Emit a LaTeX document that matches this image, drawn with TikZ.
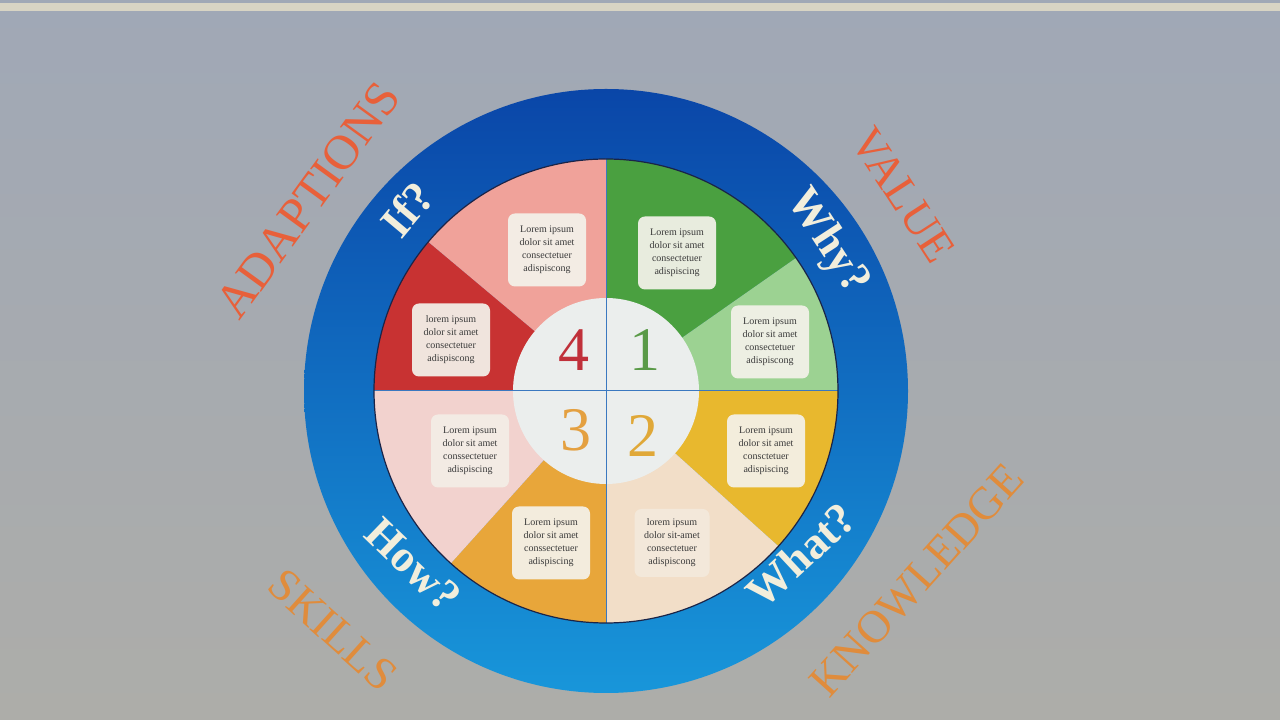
\documentclass[tikz,border=0pt]{standalone}
\usepackage{fontspec}
\setmainfont{Liberation Serif}
\usetikzlibrary{calc}
\definecolor{bgtop}{HTML}{A0A8B6}
\definecolor{bgmid}{HTML}{C8CCD2}
\definecolor{bgbot}{HTML}{ADADA9}
\definecolor{stripc}{HTML}{D8D4C4}
\definecolor{ringtop}{HTML}{0A46A8}
\definecolor{ringbot}{HTML}{1896DA}
\definecolor{pinkA}{HTML}{F0A29A}
\definecolor{redA}{HTML}{C83232}
\definecolor{greenD}{HTML}{4AA040}
\definecolor{greenL}{HTML}{9CD292}
\definecolor{yellowA}{HTML}{E8B82E}
\definecolor{beigeA}{HTML}{F2DEC8}
\definecolor{pinkL}{HTML}{F2D2CE}
\definecolor{orangeA}{HTML}{E8A63A}
\definecolor{centerc}{HTML}{EBEEED}
\definecolor{navyline}{HTML}{1A2448}
\definecolor{divline}{HTML}{3A78C0}
\definecolor{boxfill}{HTML}{F4F2EA}
\definecolor{boxtext}{HTML}{3A3A3A}
\definecolor{cream}{HTML}{F2EEDC}
\definecolor{lblred}{HTML}{E8603A}
\definecolor{lblorange}{HTML}{E08C3C}
\definecolor{numred}{HTML}{C0303A}
\definecolor{numgreen}{HTML}{5A9A48}
\definecolor{numorange}{HTML}{E4A040}
\definecolor{numyellow}{HTML}{E0A838}
\tikzset{
  txtbox/.style={rounded corners=7pt, fill=boxfill, fill opacity=0.93, text opacity=1,
    minimum width=78pt, minimum height=73pt, align=center, inner sep=2pt,
    font=\fontsize{10}{13}\selectfont, text=boxtext},
  numlbl/.style={inner sep=0pt, font=\fontsize{62}{62}\selectfont},
  ringlbl/.style={inner sep=0pt, text=cream, font=\fontsize{45}{45}\selectfont\bfseries},
  outlbl/.style={inner sep=0pt, font=\fontsize{46}{46}\selectfont}
}
\newcommand{\sector}[3]{\fill[#1] (C) -- ($(C)+(#2:232)$) arc[start angle=#2, end angle=#3, radius=232] -- cycle;}
\begin{document}
\begin{tikzpicture}[x=1pt,y=1pt]
\useasboundingbox (0,0) rectangle (1280,720);
\shade[top color=bgtop, middle color=bgmid, bottom color=bgbot] (0,0) rectangle (1280,720);
\fill[stripc] (0,709) rectangle (1280,717);
\coordinate (C) at (606,329);
% outer ring
\shade[top color=ringtop, bottom color=ringbot] (C) circle[radius=302];
% sectors
\sector{greenD}{35}{90}
\sector{greenL}{0}{35}
\sector{yellowA}{-42}{0}
\sector{beigeA}{-90}{-42}
\sector{orangeA}{228}{270}
\sector{pinkL}{180}{228}
\sector{redA}{140}{180}
\sector{pinkA}{90}{140}
% center disc
\fill[centerc] (C) circle[radius=93];
% dividers
\coordinate (vt) at ($(C)+(90:232)$);
\coordinate (vb) at ($(C)+(-90:232)$);
\coordinate (hl) at ($(C)+(180:232)$);
\coordinate (hr) at ($(C)+(0:232)$);
\draw[divline, line width=1pt] (vt) -- (vb);
\draw[divline, line width=1pt] (hl) -- (hr);
\draw[navyline, line width=1.2pt] (C) circle[radius=232];
% text boxes
\node[txtbox] (b1) at (547,470) {Lorem ipsum\\dolor sit amet\\consectetuer\\adispiscong};
\node[txtbox] (b2) at (451,380) {lorem ipsum\\dolor sit amet\\consectetuer\\adispiscong};
\node[txtbox] (b3) at (677,467) {Lorem ipsum\\dolor sit amet\\consectetuer\\adispiscing};
\node[txtbox] (b4) at (770,378) {Lorem ipsum\\dolor sit amet\\consectetuer\\adispiscong};
\node[txtbox] (b5) at (766,269) {Lorem ipsum\\dolor sit amet\\consctetuer\\adispiscing};
\node[txtbox, minimum width=75pt, minimum height=68pt, fill opacity=0.55] (b6) at (672,177) {lorem ipsum\\dolor sit-amet\\consectetuer\\adispiscong};
\node[txtbox, fill opacity=0.8] (b7) at (470,269) {Lorem ipsum\\dolor sit amet\\conssectetuer\\adispiscing};
\node[txtbox] (b8) at (551,177) {Lorem ipsum\\dolor sit amet\\conssectetuer\\adispiscing};
% numbers
\node[numlbl, text=numred] (n4) at (574,370) {4};
\node[numlbl, text=numgreen] (n1) at (645,370) {1};
\node[numlbl, text=numorange] (n3) at (576,290) {3};
\node[numlbl, text=numyellow] (n2) at (643,284) {2};
% ring labels
\node[ringlbl, rotate=50] (lif) at (407,511) {If?};
\node[ringlbl, rotate=-57] (lwhy) at (827,478) {Why?};
\node[ringlbl, rotate=43] (lwhat) at (801,165) {What?};
\node[ringlbl, rotate=-44] (lhow) at (413,155) {How?};
% outer labels
\node[outlbl, text=lblred, rotate=54, font=\fontsize{49}{49}\selectfont] (ladapt) at (308,520) {ADAPTIONS};
\node[outlbl, text=lblred, rotate=-57] (lvalue) at (903,525) {VALUE};
\node[outlbl, text=lblorange, rotate=-42] (lskills) at (333,90) {SKILLS};
\node[outlbl, text=lblorange, rotate=48] (lknow) at (917,140) {KNOWLEDGE};
\end{tikzpicture}
\end{document}
